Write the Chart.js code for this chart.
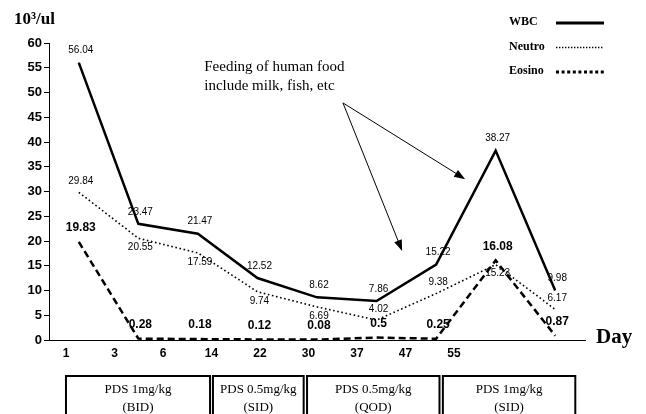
<!DOCTYPE html>
<html>
<head>
<meta charset="utf-8">
<script src="https://cdn.jsdelivr.net/npm/chart.js@4.4.0/dist/chart.umd.min.js"></script>
<style>html,body{margin:0;padding:0;background:#fff}</style>
</head>
<body>
<canvas id="mycanvas" width="646" height="414"></canvas>
<script>
// values (10^3/ul)
var days = ['1', '3', '6', '14', '22', '30', '37', '47', '55'];
var wbc = [56.04, 23.47, 21.47, 12.52, 8.62, 7.86, 15.22, 38.27, 9.98];
var neutro = [29.84, 20.55, 17.59, 9.74, 6.69, 4.02, 9.38, 15.23, 6.17];
var eosino = [19.83, 0.28, 0.18, 0.12, 0.08, 0.5, 0.25, 16.08, 0.87];
var seriesNames = ['WBC', 'Neutro', 'Eosino'];
var treatments = [['PDS 1mg/kg', '(BID)'], ['PDS 0.5mg/kg', '(SID)'], ['PDS 0.5mg/kg', '(QOD)'], ['PDS 1mg/kg', '(SID)']];
var note = ['Feeding of human food', 'include milk, fish, etc'];

var SANS = '"Liberation Sans", Arial, sans-serif';
var SERIF = '"Liberation Serif", "Times New Roman", serif';

// which side of the point each Neutro value sits on
var neutroSide = ['up', 'down', 'down', 'down', 'down', 'up', 'up', 'down', 'up'];

var valueLabels = {
  id: 'valueLabels',
  afterDatasetsDraw: function(chart) {
    var ctx = chart.ctx;
    ctx.save();
    ctx.fillStyle = '#000';
    ctx.textAlign = 'center';
    ctx.textBaseline = 'middle';
    chart.data.datasets.forEach(function(ds, d) {
      var meta = chart.getDatasetMeta(d);
      meta.data.forEach(function(pt, i) {
        var dy;
        if (d == 0) { ctx.font = '10px ' + SANS; dy = -12; }
        else if (d == 1) { ctx.font = '10px ' + SANS; dy = neutroSide[i] == 'up' ? -11 : 9; }
        else { ctx.font = 'bold 12px ' + SANS; dy = -14; }
        ctx.fillText(String(ds.data[i]), pt.x + 2, pt.y + dy);
      });
    });
    ctx.restore();
  }
};

function arrow(ctx, x1, y1, x2, y2) {
  var a = Math.atan2(y2 - y1, x2 - x1);
  ctx.beginPath();
  ctx.moveTo(x1, y1);
  ctx.lineTo(x2 - 8 * Math.cos(a), y2 - 8 * Math.sin(a));
  ctx.stroke();
  ctx.beginPath();
  ctx.moveTo(x2, y2);
  ctx.lineTo(x2 - 11 * Math.cos(a) + 4 * Math.sin(a), y2 - 11 * Math.sin(a) - 4 * Math.cos(a));
  ctx.lineTo(x2 - 11 * Math.cos(a) - 4 * Math.sin(a), y2 - 11 * Math.sin(a) + 4 * Math.cos(a));
  ctx.closePath();
  ctx.fill();
}

var extras = {
  id: 'extras',
  afterDraw: function(chart) {
    var ctx = chart.ctx;
    var xs = chart.scales.xt, ys = chart.scales.y;
    ctx.save();
    ctx.fillStyle = '#000';
    ctx.strokeStyle = '#000';

    // axis unit and "Day"
    ctx.textAlign = 'left';
    ctx.textBaseline = 'middle';
    ctx.font = 'bold 17px ' + SERIF;
    ctx.fillText('10\u00b3/ul', 14, 20);
    ctx.font = 'bold 21px ' + SERIF;
    ctx.fillText('Day', 596, 338);

    // legend (Eosino sample drawn as square dots like the original)
    var legendDash = [[], [1.4, 1.6], [3, 2.6]];
    var legendWidth = [3, 1.3, 3];
    ctx.font = 'bold 12px ' + SERIF;
    chart.data.datasets.forEach(function(ds, d) {
      var y = 22 + d * 24.5;
      ctx.fillText(seriesNames[d], 509, y);
      ctx.save();
      ctx.lineWidth = legendWidth[d];
      ctx.setLineDash(legendDash[d]);
      ctx.beginPath();
      ctx.moveTo(556, y + 1);
      ctx.lineTo(604, y + 1);
      ctx.stroke();
      ctx.restore();
    });

    // annotation
    ctx.font = '15px ' + SERIF;
    ctx.fillText(note[0], xs.getPixelForValue(2.85), ys.getPixelForValue(55.2));
    ctx.fillText(note[1], xs.getPixelForValue(2.85), ys.getPixelForValue(51.4));
    ctx.lineWidth = 1;
    var sx = xs.getPixelForValue(5.71), sy = ys.getPixelForValue(47.9);
    arrow(ctx, sx, sy, xs.getPixelForValue(8.23), ys.getPixelForValue(32.5));
    arrow(ctx, sx, sy, xs.getPixelForValue(6.93), ys.getPixelForValue(18.0));

    // treatment boxes
    var spans = [[0, 2.97], [3.03, 4.9], [4.97, 7.7], [7.77, 10.5]];
    ctx.lineWidth = 2;
    ctx.textAlign = 'center';
    ctx.font = '13px ' + SERIF;
    spans.forEach(function(s, i) {
      var l = xs.getPixelForValue(s[0]), r = xs.getPixelForValue(s[1]);
      ctx.strokeRect(l, 376, r - l, 44);
      ctx.fillText(treatments[i][0], (l + r) / 2, 390);
      ctx.fillText(treatments[i][1], (l + r) / 2, 408);
    });
    ctx.restore();
  }
};

var chartdata = {
  labels: days,
  datasets: [
    { label: 'WBC', data: wbc, borderColor: '#000', borderWidth: 2.5, borderDash: [], pointRadius: 0, fill: false, tension: 0 },
    { label: 'Neutro', data: neutro, borderColor: '#000', borderWidth: 1.6, borderDash: [1.6, 2.6], pointRadius: 0, fill: false, tension: 0 },
    { label: 'Eosino', data: eosino, borderColor: '#000', borderWidth: 2.5, borderDash: [7, 4], pointRadius: 0, fill: false, tension: 0 }
  ]
};

var ctx = document.getElementById('mycanvas');
var LineGraph = new Chart(ctx, {
  type: 'line',
  data: chartdata,
  options: {
    responsive: false,
    animation: false,
    devicePixelRatio: 1,
    layout: { padding: { top: 43, right: 61, bottom: 0, left: 0 } },
    plugins: { legend: { display: false }, tooltip: { enabled: false } },
    scales: {
      x: {
        type: 'category',
        offset: true,
        grid: { display: false },
        ticks: { display: false },
        border: { display: true, color: '#000', width: 1 },
        afterFit: function(s) { s.height = 0; }
      },
      xt: {
        type: 'linear',
        position: 'bottom',
        min: -0.35,
        max: 10.7,
        grid: { display: false, drawTicks: false },
        border: { display: false },
        ticks: {
          stepSize: 1,
          includeBounds: false,
          autoSkip: false,
          maxRotation: 0,
          padding: 6,
          color: '#000',
          font: { family: SANS, size: 12, weight: 'bold' },
          callback: function(v) { return days[v] !== undefined && Number.isInteger(v) ? days[v] : ''; }
        },
        afterFit: function(s) { s.height = 74; }
      },
      y: {
        min: 0,
        max: 60,
        grid: { drawOnChartArea: false, drawTicks: true, tickLength: 5, color: '#000' },
        border: { display: true, color: '#000', width: 1 },
        ticks: {
          stepSize: 5,
          padding: 2,
          color: '#000',
          font: { family: SANS, size: 13, weight: 'bold' }
        },
        afterFit: function(s) { s.width = 49; }
      }
    }
  },
  plugins: [valueLabels, extras]
});
</script>
</body>
</html>
